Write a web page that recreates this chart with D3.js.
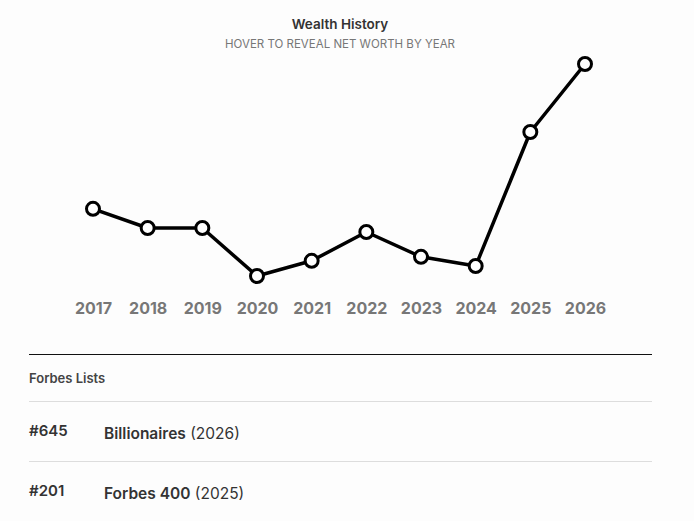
<!DOCTYPE html>
<html>
<head>
<meta charset="utf-8">
<script src="https://cdn.jsdelivr.net/npm/d3@7"></script>
<style>
  body { margin: 0; background: #fdfdfd; font-family: Inter, "Open Sans", sans-serif; }
</style>
</head>
<body>
<svg id="chart" width="694" height="521"></svg>
<script>
// donnees
var years = [2017, 2018, 2019, 2020, 2021, 2022, 2023, 2024, 2025, 2026];
var netWorth = [3.68, 3.2, 3.2, 2.0, 2.38, 3.1, 2.48, 2.25, 5.6, 7.3]; // milliards $
var listRanks = ["#645", "#201"];
var listNames = ["Billionaires", "Forbes 400"];
var listYears = ["(2026)", "(2025)"];

var svg = d3.select("#chart");

// titre
svg.append("text").attr("x", 340).attr("y", 29).attr("text-anchor", "middle")
  .attr("font-size", 13.5).attr("font-weight", 600).attr("fill", "#333").text("Wealth History");
svg.append("text").attr("x", 340).attr("y", 48).attr("text-anchor", "middle")
  .attr("font-size", 11.5).attr("fill", "#777").text("HOVER TO REVEAL NET WORTH BY YEAR");

var x = d3.scalePoint().domain(years).range([93, 585]);
var y = d3.scaleLinear().domain([d3.min(netWorth), d3.max(netWorth)]).range([276, 64]);

var data = years.map(function(d, i){ return {year: d, v: netWorth[i]}; });

// axe x
var axis = svg.append("g").attr("transform", "translate(0,300)")
  .call(d3.axisBottom(x).tickSize(0).tickPadding(0));
axis.select(".domain").remove();
axis.selectAll("text").attr("font-family", "Inter, sans-serif").attr("font-size", 16)
  .attr("font-weight", 700).attr("fill", "#777").attr("dy", "0.9em");

// ligne
svg.append("path").datum(data)
  .attr("fill", "none").attr("stroke", "#000").attr("stroke-width", 3.5)
  .attr("stroke-linejoin", "round")
  .attr("d", d3.line().x(function(d){ return x(d.year); }).y(function(d){ return y(d.v); }));

svg.selectAll(".pt").data(data).enter().append("circle").attr("class", "pt")
  .attr("cx", function(d){ return x(d.year); }).attr("cy", function(d){ return y(d.v); })
  .attr("r", 6.5).attr("fill", "#fff").attr("stroke", "#000").attr("stroke-width", 3);

// listes forbes
svg.append("line").attr("x1", 29).attr("x2", 652).attr("y1", 354.5).attr("y2", 354.5)
  .attr("stroke", "#111").attr("stroke-width", 1);
svg.append("text").attr("x", 29).attr("y", 383).attr("font-size", 13).attr("font-weight", 600)
  .attr("fill", "#444").text("Forbes Lists");

listRanks.forEach(function(r, i){
  var top = 401 + i * 60;
  svg.append("line").attr("x1", 29).attr("x2", 652).attr("y1", top + 0.5).attr("y2", top + 0.5)
    .attr("stroke", "#ddd").attr("stroke-width", 1);
  svg.append("text").attr("x", 29).attr("y", top + 35).attr("font-size", 15).attr("font-weight", 600)
    .attr("fill", "#333").text(r);
  var t = svg.append("text").attr("x", 104).attr("y", top + 38).attr("font-size", 15.5).attr("fill", "#333");
  t.append("tspan").attr("font-weight", 600).text(listNames[i]);
  t.append("tspan").attr("font-weight", 400).text(" " + listYears[i]);
});
</script>
</body>
</html>
